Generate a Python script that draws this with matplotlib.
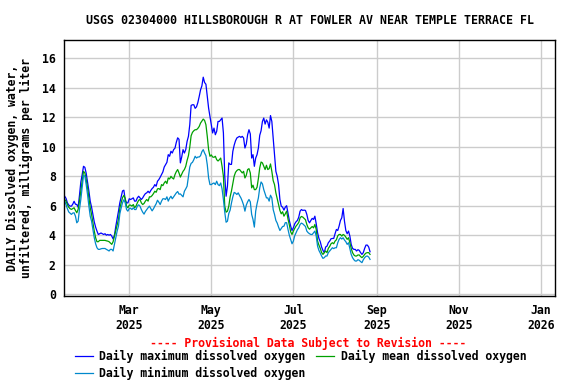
import pandas as pd
import matplotlib
matplotlib.use('Agg')
import matplotlib.pyplot as plt
import matplotlib.dates as mdates

# valores diarios (mg/L), a partir de 12/01/2025
inicio = '2025-01-12'

maximo = [6.64, 6.5, 6.2, 6.05, 5.97, 5.97, 6.1, 6.3, 6.1, 6.08,
          5.9, 6.7, 7.6, 8.1, 8.67, 8.6, 8.2, 7.6, 7.0, 6.3,
          5.9, 5.4, 4.9, 4.55, 4.28, 4.05, 4.1, 4.15, 4.1, 4.05,
          4.1, 4.0, 4.05, 4.0, 4.05, 3.94, 3.75, 4.0, 4.6, 5.1,
          5.63, 6.2, 6.6, 7.0, 7.05, 6.4, 6.19, 6.19, 6.47, 6.42,
          6.47, 6.53, 6.31, 6.31, 6.53, 6.64, 6.53, 6.42, 6.53, 6.69,
          6.82, 6.87, 6.98, 6.87, 7.03, 7.16, 7.25, 7.43, 7.32, 7.66,
          7.77, 7.93, 8.11, 8.29, 8.62, 8.78, 8.94, 9.46, 9.35, 9.69,
          9.57, 9.8, 9.9, 10.3, 10.6, 10.5, 8.9, 9.3, 9.8, 9.57,
          9.8, 10.36, 10.7, 11.49, 12.8, 12.84, 12.84, 12.6, 12.7, 12.99,
          13.4, 13.85, 14.12, 14.71, 14.35, 14.23, 13.4, 12.61, 12.05, 11.49,
          10.93, 11.26, 10.81, 11.04, 11.71, 11.71, 11.82, 11.94, 10.93, 8.0,
          6.64, 7.32, 8.9, 8.8, 8.8, 9.68, 10.1, 10.4, 10.59, 10.65,
          10.7, 10.63, 10.7, 10.59, 9.91, 10.18, 10.81, 11.15, 10.86, 9.23,
          9.46, 8.67, 9.23, 9.46, 9.91, 10.77, 11.08, 11.71, 11.94, 11.53,
          11.82, 11.66, 11.26, 12.11, 11.71, 10.59, 9.46, 8.33, 7.99, 7.43,
          6.42, 5.97, 5.9, 5.7, 5.9, 6.0, 5.5, 5.0, 4.62, 4.32,
          4.5, 4.77, 4.91, 5.0, 5.22, 5.63, 5.74, 5.68, 5.7, 5.68,
          5.41, 5.0, 4.84, 5.0, 5.14, 5.07, 5.29, 4.77, 4.17, 3.78,
          3.56, 3.2, 2.97, 2.82, 3.2, 3.26, 3.49, 3.6, 3.76, 3.78,
          3.78, 4.1, 4.39, 4.32, 4.62, 5.0, 5.18, 5.81, 4.95, 4.32,
          4.1, 4.28, 3.94, 3.38, 3.11, 3.04, 3.04, 2.93, 3.02, 2.97,
          2.82, 2.7, 2.82, 3.11, 3.33, 3.33, 3.2, 2.88]

media = [6.42, 6.31, 6.08, 5.9, 5.8, 5.75, 5.8, 5.86, 5.68, 5.52,
         5.75, 6.3, 6.98, 7.66, 8.33, 8.22, 7.77, 7.21, 6.53, 5.86,
         5.41, 4.84, 4.28, 3.83, 3.56, 3.56, 3.65, 3.65, 3.65, 3.65,
         3.65, 3.62, 3.6, 3.56, 3.47, 3.38, 3.56, 3.94, 4.32, 4.73,
         5.07, 5.8, 6.2, 6.55, 6.7, 6.5, 5.97, 5.86, 6.04, 6.04,
         5.97, 6.08, 5.86, 5.97, 6.19, 6.37, 6.42, 6.19, 6.08, 6.15,
         6.31, 6.42, 6.31, 6.6, 6.6, 6.69, 6.82, 6.98, 6.91, 7.14,
         7.16, 7.09, 7.43, 7.36, 7.54, 7.66, 7.5, 7.88, 7.81, 7.99,
         7.88, 7.81, 8.11, 8.31, 8.45, 8.22, 7.94, 8.14, 8.33, 8.45,
         8.67, 9.07, 9.39, 9.97, 10.74, 10.97, 11.08, 11.15, 11.15, 11.24,
         11.37, 11.6, 11.73, 11.87, 11.78, 11.49, 10.7, 9.8, 9.35, 9.44,
         9.3, 9.28, 9.35, 9.12, 9.03, 9.12, 9.23, 8.67, 8.0, 5.97,
         5.56, 5.63, 5.97, 6.6, 7.0, 7.5, 8.0, 8.26, 8.38, 8.45,
         8.45, 8.33, 8.22, 8.33, 7.88, 8.06, 8.45, 8.51, 8.22, 7.21,
         7.39, 7.09, 7.09, 7.25, 7.84, 8.56, 8.96, 8.9, 8.67, 8.45,
         8.74, 8.45, 8.51, 8.83, 8.33, 7.7, 7.43, 6.87, 6.49, 6.08,
         5.68, 5.45, 5.59, 5.29, 5.45, 5.63, 5.1, 4.7, 4.23, 4.05,
         4.28, 4.46, 4.62, 4.73, 4.86, 5.18, 5.27, 5.23, 5.14, 5.05,
         4.73, 4.5, 4.41, 4.5, 4.59, 4.5, 4.73, 4.39, 3.6, 3.33,
         3.11, 2.82, 2.7, 2.82, 2.93, 2.82, 3.11, 3.24, 3.42, 3.49,
         3.42, 3.6, 3.69, 3.96, 4.05, 4.05, 3.94, 4.05, 3.99, 3.87,
         3.72, 3.83, 3.49, 3.11, 2.82, 2.66, 2.59, 2.59, 2.66, 2.66,
         2.55, 2.48, 2.57, 2.7, 2.79, 2.82, 2.82, 2.7]

minimo = [6.31, 6.08, 5.8, 5.58, 5.5, 5.41, 5.5, 5.52, 5.29, 4.84,
          4.95, 5.75, 6.42, 7.21, 8.06, 8.0, 7.43, 6.76, 5.97, 5.29,
          4.95, 4.39, 3.83, 3.42, 3.15, 3.04, 3.04, 3.08, 3.1, 3.1,
          3.1, 3.04, 2.99, 2.93, 3.04, 3.04, 2.93, 3.38, 3.83, 4.28,
          4.62, 5.45, 5.85, 6.2, 6.4, 6.2, 5.74, 5.63, 5.81, 5.83,
          5.74, 5.86, 5.74, 5.74, 5.97, 6.06, 5.97, 5.74, 5.56, 5.43,
          5.61, 5.74, 5.86, 5.97, 5.81, 5.65, 5.79, 5.97, 6.13, 6.37,
          6.24, 6.08, 6.31, 6.47, 6.47, 6.42, 6.6, 6.31, 6.51, 6.64,
          6.47, 6.6, 6.73, 6.87, 6.96, 6.78, 6.8, 6.7, 6.6, 6.98,
          7.14, 7.32, 7.95, 8.62, 8.87, 8.94, 9.12, 9.35, 9.23, 9.3,
          9.3, 9.39, 9.66, 9.8, 9.57, 9.39, 8.78, 7.88, 7.43, 7.43,
          7.5, 7.54, 7.43, 7.66, 7.43, 7.36, 7.54, 7.14, 6.42, 5.56,
          4.88, 4.95, 5.47, 5.7, 6.19, 6.6, 6.9, 6.85, 6.76, 6.87,
          6.69, 6.53, 6.31, 6.04, 5.63, 6.04, 6.26, 6.42, 6.26, 5.41,
          5.07, 4.55, 5.63, 6.13, 6.53, 7.21, 7.61, 7.48, 7.09, 6.8,
          6.53, 6.53, 6.31, 6.71, 6.53, 5.74, 5.41, 5.0, 4.82, 4.55,
          4.32, 4.46, 4.59, 4.61, 4.85, 4.85, 4.4, 4.0, 3.72, 3.42,
          3.6, 3.96, 4.17, 4.37, 4.5, 4.73, 4.82, 4.77, 4.68, 4.59,
          4.28, 4.17, 4.1, 4.05, 4.05, 4.17, 4.28, 3.94, 3.26, 2.97,
          2.79, 2.59, 2.43, 2.48, 2.59, 2.59, 2.82, 2.93, 3.04, 3.15,
          3.09, 3.15, 3.15, 3.49, 3.72, 3.83, 3.74, 3.83, 3.67, 3.56,
          3.38, 3.49, 3.11, 2.7, 2.48, 2.34, 2.25, 2.25, 2.34, 2.3,
          2.21, 2.14, 2.34, 2.48, 2.57, 2.59, 2.52, 2.36]

titulo = 'USGS 02304000 HILLSBOROUGH R AT FOWLER AV NEAR TEMPLE TERRACE FL'
rotulo_y = 'DAILY Dissolved oxygen, water,\nunfiltered, milligrams per liter'
aviso = '---- Provisional Data Subject to Revision ----'
nomes = ['Daily maximum dissolved oxygen', 'Daily mean dissolved oxygen',
         'Daily minimum dissolved oxygen']
cores = ['#0000ff', '#00a000', '#0088cc']

plt.rcParams['font.family'] = 'DejaVu Sans Mono'
plt.rcParams['font.weight'] = 'bold'
plt.rcParams['font.size'] = 8.3

datas_max = pd.date_range(inicio, periods=len(maximo), freq='D')
datas_med = pd.date_range(inicio, periods=len(media), freq='D')
datas_min = pd.date_range(inicio, periods=len(minimo), freq='D')

fig = plt.figure(figsize=(5.76, 3.84), dpi=100)
ax = fig.add_axes([64/576, 88/384, 491/576, 256/384])

l_max, = ax.plot(datas_max, maximo, color=cores[0], lw=0.9)
l_med, = ax.plot(datas_med, media, color=cores[1], lw=0.9)
l_min, = ax.plot(datas_min, minimo, color=cores[2], lw=0.9)

ax.set_xlim(pd.Timestamp('2025-01-11 12:00'), pd.Timestamp('2026-01-11 12:00'))
ax.set_ylim(-0.12, 17.23)
ax.set_yticks(range(0, 17, 2))
ax.xaxis.set_major_locator(mdates.MonthLocator(bymonth=[1, 3, 5, 7, 9, 11]))
ax.xaxis.set_major_formatter(mdates.DateFormatter('%b\n%Y'))
ax.grid(True, color='#cccccc', lw=1)
ax.set_axisbelow(True)
ax.tick_params(length=0, pad=6)
for s in ax.spines.values():
    s.set_linewidth(1)

# textos
fig.text(310.5/576, 1 - 20/384, titulo, ha='center', va='center', fontsize=8.4)
fig.text(19.5/576, 1 - 168/384, rotulo_y, rotation=90, ha='center', va='center',
         linespacing=1.1)
fig.text(308/576, 1 - 343/384, aviso, color='red', ha='center', va='center')

# legenda
fig.legend([l_max, l_min, l_med], [nomes[0], nomes[2], nomes[1]], ncol=2,
           loc='upper left', bbox_to_anchor=(75/576, 1 - 350/384), frameon=False,
           borderpad=0, borderaxespad=0, handlelength=1.55, handletextpad=0.55,
           columnspacing=0.95, labelspacing=0.35)

plt.savefig('out.png', dpi=100)
